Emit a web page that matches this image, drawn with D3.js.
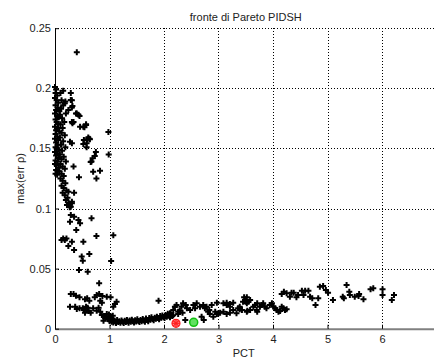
<!DOCTYPE html>
<html>
<head>
<meta charset="utf-8">
<script src="https://cdn.jsdelivr.net/npm/d3@7"></script>
<style>
  body { margin: 0; background: #fff; }
  text { font-family: "Liberation Sans", Arial, sans-serif; }
</style>
</head>
<body>
<svg id="chart"></svg>
<script>
// tick values (the axis runs to 7, just past the right edge of the window)
const xTicks = [0, 1, 2, 3, 4, 5, 6];
const yTicks = [0, 0.05, 0.1, 0.15, 0.2, 0.25];

// Pareto front points [PCT, max(err rho)]
const columnPts = [
  [0.00,0.201],[0.02,0.199],[0.01,0.196],[0.04,0.194],[0.00,0.192],[0.03,0.190],[0.06,0.188],[0.01,0.186],
  [0.05,0.184],[0.02,0.182],[0.08,0.181],[0.00,0.179],[0.04,0.177],[0.07,0.176],[0.01,0.174],[0.03,0.172],
  [0.06,0.170],[0.00,0.168],[0.05,0.167],[0.02,0.165],[0.08,0.164],[0.01,0.162],[0.04,0.160],[0.00,0.158],
  [0.06,0.157],[0.02,0.155],[0.05,0.153],[0.01,0.151],[0.03,0.150],[0.07,0.149],[0.00,0.147],[0.04,0.146],
  [0.02,0.144],[0.06,0.142],[0.01,0.140],[0.05,0.139],[0.00,0.137],[0.03,0.136],[0.07,0.134],[0.02,0.132],
  [0.05,0.131],[0.01,0.129],[0.04,0.128]
];
const cloudPts = [
  [0.10,0.196],[0.12,0.190],[0.15,0.186],[0.11,0.183],[0.09,0.178],[0.13,0.175],[0.17,0.172],[0.10,0.170],
  [0.14,0.167],[0.12,0.163],[0.18,0.161],[0.09,0.159],[0.15,0.156],[0.11,0.153],[0.19,0.151],[0.13,0.148],
  [0.09,0.145],[0.16,0.143],[0.12,0.141],[0.20,0.139],[0.10,0.137],[0.14,0.135],[0.18,0.133],[0.08,0.131],
  [0.12,0.129],[0.16,0.127],[0.10,0.125],[0.14,0.123],[0.19,0.121],[0.12,0.119],[0.16,0.117],[0.21,0.115],
  [0.14,0.113],[0.18,0.111],[0.23,0.109],[0.20,0.107],[0.25,0.105],[0.22,0.103],[0.27,0.101]
];
const upperScatter = [
  [0.40,0.230],[0.15,0.198],[0.29,0.196],[0.31,0.190],[0.29,0.1903],[0.19,0.189],[0.18,0.1875],[0.32,0.1853],
  [0.31,0.184],[0.245,0.182],[0.20,0.179],[0.385,0.179],[0.43,0.178],[0.40,0.179],[0.45,0.177],[0.34,0.172],
  [0.31,0.172],[0.32,0.171],[0.46,0.168],[0.52,0.168],[0.57,0.1695],[0.54,0.1675],[0.57,0.170],[0.98,0.1636],
  [0.53,0.157],[0.64,0.1576],[0.59,0.1576],[0.63,0.158],[0.61,0.159],[0.58,0.1542],[0.52,0.1537],[0.58,0.151],
  [0.275,0.1556],[0.31,0.1542],[0.75,0.147],[0.73,0.1437],[0.69,0.1418],[0.67,0.139],[0.655,0.1387],[0.985,0.145],
  [0.826,0.1315],[0.70,0.1306],[0.76,0.125],[0.44,0.126],[0.34,0.135],[0.35,0.113],[0.245,0.114],[0.31,0.1043],
  [0.29,0.1015],[0.31,0.1057]
];
const middlePts = [
  [0.67,0.0918],[0.29,0.0946],[0.35,0.0932],[0.43,0.0904],[0.46,0.0877],[0.275,0.089],[0.39,0.0821],[0.76,0.0771],
  [1.07,0.0777],[0.15,0.075],[0.21,0.075],[0.12,0.0738],[0.18,0.0738],[0.31,0.0724],[0.52,0.0724],[0.245,0.0688],
  [0.35,0.0655],[0.63,0.0621],[0.49,0.060],[0.51,0.0566],[1.03,0.0563],[0.44,0.0488],[0.60,0.0474],[0.81,0.0378]
];
const lowLeftPts = [
  [0.29,0.0289],[0.34,0.0289],[0.385,0.0275],[0.45,0.0261],[0.275,0.0183],[0.55,0.0245],[0.59,0.0253],[0.63,0.0233],
  [0.73,0.0261],[0.765,0.028],[0.81,0.0289],[0.87,0.0272],[0.95,0.0266],[1.02,0.0261],[0.83,0.0233],[0.86,0.0216],
  [0.37,0.0183],[0.40,0.0164],[0.51,0.017],[0.53,0.0156],[0.57,0.0183],[0.62,0.0147],[0.55,0.0133],[0.655,0.0133],
  [0.70,0.017],[0.765,0.015],[0.80,0.0175],[1.13,0.0225],[1.10,0.0205],[1.07,0.0183],[0.83,0.0141],[0.86,0.0114],
  [0.90,0.0106],[0.95,0.0122],[0.92,0.0087],[0.98,0.0078],[0.89,0.0067],[0.60,0.0175],[0.45,0.0170],[0.94,0.0100]
];
const bottomBand = [
  [0.97,0.0085],[1.00,0.0065],[1.02,0.0072],[1.04,0.0058],[1.05,0.0080],[1.07,0.0052],[1.09,0.0068],[1.11,0.0060],
  [1.12,0.0048],[1.14,0.0072],[1.16,0.0055],[1.18,0.0063],[1.20,0.0050],[1.22,0.0068],[1.24,0.0058],[1.26,0.0047],
  [1.28,0.0066],[1.30,0.0055],[1.32,0.0072],[1.33,0.0062],[1.35,0.0050],[1.37,0.0068],[1.39,0.0058],[1.41,0.0075],
  [1.43,0.0062],[1.45,0.0052],[1.47,0.0070],[1.49,0.0060],[1.51,0.0078],[1.53,0.0065],[1.55,0.0055],[1.57,0.0072],
  [1.59,0.0062],[1.61,0.0080],[1.63,0.0068],[1.65,0.0058],[1.67,0.0085],[1.69,0.0072],[1.71,0.0062],[1.73,0.0088],
  [1.75,0.0075],[1.77,0.0095],[1.79,0.0080],[1.81,0.0070],[1.83,0.0092],[1.85,0.0082],[1.87,0.0100],[1.89,0.0088],
  [1.91,0.0078],[1.93,0.0105],[1.95,0.0092],[1.97,0.0110],[1.99,0.0098],[2.01,0.0088],[2.03,0.0115],[2.05,0.0100],
  [2.07,0.0125],[2.09,0.0108],[2.11,0.0095],[2.13,0.0120],[2.15,0.0105],[2.17,0.0112],[1.01,0.0100],[1.03,0.0092],
  [1.06,0.0108],[0.99,0.0118],[1.90,0.0233],[2.04,0.0106],[2.11,0.0128]
];
const rightPts = [
  [2.17,0.0156],[2.20,0.0183],[2.23,0.0197],[2.26,0.0141],[2.32,0.0183],[2.35,0.0211],[2.40,0.0197],[2.42,0.017],
  [2.48,0.0156],[2.54,0.0197],[2.57,0.017],[2.60,0.0211],[2.66,0.0183],[2.72,0.0197],[2.75,0.017],[2.78,0.0183],
  [2.83,0.0156],[2.875,0.0197],[2.905,0.010],[2.97,0.0216],[2.94,0.0141],[3.00,0.0128],[3.09,0.0211],[3.15,0.0197],
  [3.21,0.0183],[3.27,0.0156],[3.33,0.0128],[3.39,0.0183],[3.45,0.0225],[3.52,0.0211],[3.58,0.0239],[3.64,0.0183],
  [3.70,0.0156],[2.39,0.0072],[2.73,0.0072],[2.69,0.0100],[2.29,0.0150],[2.34,0.0133],[2.26,0.0122],
  [2.81,0.0141],[2.84,0.0122],[2.97,0.0122],[3.03,0.0133],[3.09,0.0141],[3.15,0.0122],[3.21,0.0133],
  [3.15,0.0216],[3.21,0.0205],[3.27,0.0216],[3.36,0.017],[3.43,0.0156],[3.52,0.0141],[3.58,0.0156],
  [3.49,0.0239],[3.52,0.0261],[3.55,0.0225],[3.39,0.0161],[3.47,0.0261],[3.50,0.0225],[3.53,0.015],
  [3.67,0.0197],[3.71,0.0211],[3.71,0.0141],[3.76,0.0183],[3.79,0.0197],[3.82,0.0211],[3.85,0.0183],[3.88,0.017],
  [3.94,0.0197],[3.98,0.0211],[4.01,0.0183],[4.04,0.017],[4.07,0.0156],[4.10,0.0141],[4.13,0.0147],[4.16,0.0183],
  [4.19,0.017],[4.22,0.0156],[4.25,0.0161],[4.16,0.0289],[4.20,0.0308],[4.25,0.0294],[4.31,0.0266],[4.34,0.0300],
  [4.38,0.0300],[4.43,0.0261],[4.46,0.028],[4.53,0.0316],[4.56,0.028],[4.59,0.0316],[4.65,0.0316],[4.68,0.0266],
  [4.72,0.0253],[4.78,0.0197],[4.83,0.0253],[4.86,0.035],[4.92,0.0355],[4.97,0.0322],[5.01,0.030],[5.10,0.0239],
  [5.28,0.0266],[5.30,0.0253],[5.35,0.0364],[5.40,0.0308],[5.41,0.028],[5.50,0.0266],[5.57,0.0272],[5.58,0.0289],
  [5.66,0.0245],[5.79,0.0328],[5.84,0.0336],[6.01,0.0328],[6.01,0.028],[6.18,0.0239],[6.22,0.028]
];
const frontPts = [].concat(columnPts, cloudPts, upperScatter, middlePts, lowLeftPts, bottomBand, rightPts);

// highlighted solutions
const redPick = [2.22, 0.0045];
const greenPick = [2.545, 0.0053];

const width = 434, height = 363;
const plotLeft = 55, plotTop = 28.2, plotRight = 436.5, plotBottom = 328.7;

const svg = d3.select('#chart')
  .attr('width', width)
  .attr('height', height);

const x = d3.scaleLinear().domain([0, 7]).range([plotLeft, plotRight]);
const y = d3.scaleLinear().domain([0, 0.25]).range([plotBottom, plotTop]);

// dotted grid
const grid = svg.append('g')
  .attr('stroke', '#000')
  .attr('stroke-width', 1)
  .attr('stroke-dasharray', '1,2')
  .attr('shape-rendering', 'crispEdges');
grid.selectAll('.gx').data(xTicks.slice(1)).join('line')
  .attr('x1', d => Math.round(x(d)) + 0.5).attr('x2', d => Math.round(x(d)) + 0.5)
  .attr('y1', plotTop).attr('y2', plotBottom);
grid.selectAll('.gy').data(yTicks.slice(1)).join('line')
  .attr('y1', d => Math.round(y(d)) + 0.5).attr('y2', d => Math.round(y(d)) + 0.5)
  .attr('x1', plotLeft).attr('x2', width);

// axes
const xAxis = d3.axisBottom(x)
  .tickValues(xTicks)
  .tickSize(-4)
  .tickSizeOuter(0)
  .tickPadding(7)
  .tickFormat(d3.format('d'));
const yAxis = d3.axisLeft(y)
  .tickValues(yTicks)
  .tickSize(-4)
  .tickSizeOuter(0)
  .tickPadding(4)
  .tickFormat(d => String(d));

const axisX = svg.append('g')
  .attr('transform', `translate(0,${plotBottom})`)
  .call(xAxis);
axisX.select('.domain').attr('stroke', '#808080').attr('stroke-width', 2);
axisX.selectAll('.tick line').attr('stroke', '#000');
axisX.selectAll('text').attr('font-size', 11).attr('fill', '#222');

const axisY = svg.append('g')
  .attr('transform', `translate(${plotLeft},0)`)
  .call(yAxis);
axisY.select('.domain').attr('stroke', '#000');
axisY.selectAll('text').attr('font-size', 11).attr('fill', '#222');

// points
const marker = d3.symbol().type(d3.symbolCross).size(20);
svg.append('g').selectAll('path').data(frontPts).join('path')
  .attr('d', marker)
  .attr('transform', d => `translate(${x(d[0])},${y(d[1])})`)
  .attr('fill', '#000');

// red pick: circle with asterisk
const red = svg.append('g')
  .attr('transform', `translate(${x(redPick[0])},${y(redPick[1])})`)
  .attr('stroke', '#ff2020').attr('fill', 'none').attr('stroke-width', 1.2);
red.append('circle').attr('r', 4).attr('fill', '#ff9090');
[0, 45, 90, 135].forEach(a => {
  red.append('line').attr('x1', -4).attr('x2', 4).attr('transform', `rotate(${a})`);
});

// green pick
svg.append('circle')
  .attr('cx', x(greenPick[0])).attr('cy', y(greenPick[1]))
  .attr('r', 4)
  .attr('fill', '#60e060')
  .attr('stroke', '#10c010')
  .attr('stroke-width', 1.5);

// title and labels
svg.append('text')
  .attr('x', (plotLeft + plotRight) / 2).attr('y', 21)
  .attr('text-anchor', 'middle').attr('font-size', 11).attr('fill', '#222')
  .text('fronte di Pareto PIDSH');
svg.append('text')
  .attr('x', (plotLeft + plotRight) / 2 - 2).attr('y', 357)
  .attr('text-anchor', 'middle').attr('font-size', 11).attr('fill', '#222')
  .text('PCT');
svg.append('text')
  .attr('transform', `translate(24,${(plotTop + plotBottom) / 2}) rotate(-90)`)
  .attr('text-anchor', 'middle').attr('font-size', 11).attr('fill', '#222')
  .text('max(err ρ)');
</script>
</body>
</html>
